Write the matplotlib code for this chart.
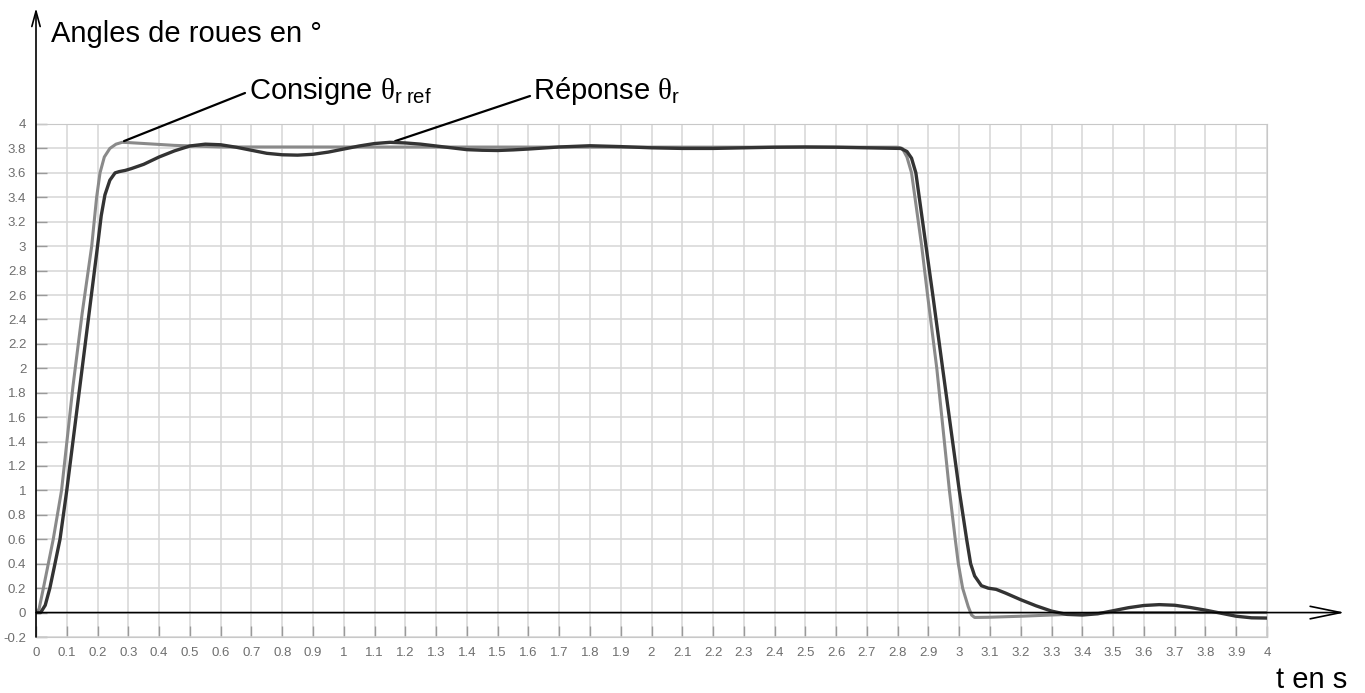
import numpy as np
import matplotlib
matplotlib.use('Agg')
import matplotlib.pyplot as plt

plt.rcParams['font.family'] = ['Liberation Sans', 'DejaVu Sans']
plt.rcParams['mathtext.fontset'] = 'custom'
plt.rcParams['mathtext.rm'] = 'Liberation Sans'
plt.rcParams['mathtext.it'] = 'Liberation Serif'

# Consigne (reference angle)
t_ref = [0, 0.01, 0.024, 0.04, 0.056, 0.083, 0.12, 0.15, 0.181, 0.197, 0.208,
         0.222, 0.24, 0.26, 0.28, 0.3, 0.45, 0.6, 2.8, 2.815, 2.83, 2.845, 2.856,
         2.878, 2.897, 2.927, 2.968, 2.987, 2.997, 3.011, 3.029, 3.04, 3.05,
         3.1, 3.2, 3.3, 3.4, 3.5, 4.0]
y_ref = [0, 0.03, 0.2, 0.4, 0.6, 1.0, 1.85, 2.45, 3.0, 3.4, 3.6,
         3.73, 3.8, 3.835, 3.85, 3.848, 3.825, 3.812, 3.81, 3.8, 3.73, 3.6, 3.4,
         3.0, 2.6, 2.0, 1.0, 0.6, 0.4, 0.2, 0.05, -0.02, -0.04,
         -0.038, -0.03, -0.02, -0.01, 0, 0]

# Reponse (measured angle)
t_rep = [0, 0.015, 0.03, 0.045, 0.06, 0.078, 0.1, 0.14, 0.2, 0.212, 0.224,
         0.24, 0.257, 0.27, 0.29, 0.31, 0.35, 0.4, 0.45, 0.5, 0.55, 0.6, 0.65,
         0.7, 0.75, 0.8, 0.85, 0.9, 0.95, 1.0, 1.05, 1.1, 1.15, 1.2, 1.25, 1.3,
         1.35, 1.4, 1.45, 1.5, 1.55, 1.6, 1.7, 1.8, 1.9, 2.0, 2.1, 2.2, 2.3, 2.4,
         2.5, 2.6, 2.7, 2.81, 2.83, 2.845, 2.859, 2.87, 2.892, 2.914, 2.946,
         3.0, 3.024, 3.037, 3.05, 3.072, 3.094, 3.12, 3.15, 3.2, 3.25, 3.3,
         3.35, 3.4, 3.45, 3.5, 3.55, 3.6, 3.65, 3.7, 3.75, 3.8, 3.85, 3.9, 3.95, 4.0]
y_rep = [0, 0.0, 0.06, 0.2, 0.38, 0.6, 1.0, 1.8, 3.0, 3.25, 3.42,
         3.54, 3.6, 3.61, 3.62, 3.635, 3.67, 3.73, 3.78, 3.82, 3.835, 3.83, 3.81,
         3.785, 3.76, 3.748, 3.745, 3.752, 3.77, 3.795, 3.82, 3.84, 3.85, 3.845, 3.835, 3.82,
         3.805, 3.79, 3.785, 3.783, 3.788, 3.795, 3.812, 3.822, 3.815, 3.805, 3.8, 3.8, 3.805, 3.81,
         3.812, 3.81, 3.805, 3.8, 3.775, 3.72, 3.6, 3.4, 3.0, 2.6, 2.0,
         1.0, 0.6, 0.4, 0.3, 0.22, 0.2, 0.19, 0.16, 0.105, 0.055, 0.012,
         -0.015, -0.02, -0.01, 0.015, 0.04, 0.058, 0.065, 0.06, 0.042, 0.02, -0.005, -0.03, -0.043, -0.045]

x_ticks = np.round(np.arange(0, 4.01, 0.1), 1)
y_ticks = np.round(np.arange(-0.2, 4.01, 0.2), 1)

W, H = 1365, 693
fig = plt.figure(figsize=(W / 100, H / 100), dpi=100)
ax = fig.add_axes([36/W, 56/H, 1231/W, 513/H])

ax.plot(t_ref, y_ref, color='#8a8a8a', lw=2.2, zorder=3)
ax.plot(t_rep, y_rep, color='#333333', lw=2.4, zorder=4)

ax.set_xlim(0, 4)
ax.set_ylim(-0.2, 4)
ax.set_xticks(x_ticks)
ax.set_xticklabels([f'{v:g}' for v in x_ticks])
ax.set_yticks(y_ticks)
ax.set_yticklabels([f'{v:g}' for v in y_ticks])
ax.grid(True, color='#d6d6d6', lw=1.1)
ax.tick_params(direction='in', length=8, width=1, colors='#9a9a9a',
               labelcolor='#6e6e6e', labelsize=9.5, pad=7)
for s in ax.spines.values():
    s.set_color('#c8c8c8')
ax.spines['left'].set_visible(False)

# axes arrows
ax.annotate('', xy=(4.253, 0), xytext=(0, 0), annotation_clip=False,
            arrowprops=dict(arrowstyle='->,head_length=2.2,head_width=0.45',
                            color='black', lw=1.2, shrinkA=0, shrinkB=0), zorder=5)
ax.annotate('', xy=(0, 1.226), xytext=(0, -0.2), xycoords=('data', 'axes fraction'),
            textcoords='data', annotation_clip=False,
            arrowprops=dict(arrowstyle='->,head_length=1.1,head_width=0.3',
                            color='black', lw=1.2, shrinkA=0, shrinkB=0), zorder=5)

fig.text(51/W, 1 - 42/H, 'Angles de roues en °', fontsize=21, va='baseline', ha='left')
fig.text(1347/W, 1 - 688/H, 't en s', fontsize=21, va='baseline', ha='right')

# leader lines and labels
ax.annotate('', xy=(0.286, 3.86), xytext=(245/W, 1 - 93/H),
            textcoords='figure fraction', annotation_clip=False,
            arrowprops=dict(arrowstyle='-', color='black', lw=1.6,
                            shrinkA=0, shrinkB=0))
ax.annotate('', xy=(1.167, 3.86), xytext=(530/W, 1 - 96/H),
            textcoords='figure fraction', annotation_clip=False,
            arrowprops=dict(arrowstyle='-', color='black', lw=1.6,
                            shrinkA=0, shrinkB=0))
fig.text(249/W, 1 - 99/H, r'Consigne $\mathit{\theta}_{\mathrm{r\ ref}}$',
         fontsize=21, va='baseline', ha='left')
fig.text(533/W, 1 - 99/H, r'Réponse $\mathit{\theta}_{\mathrm{r}}$',
         fontsize=21, va='baseline', ha='left')

fig.savefig('out.png', dpi=100)
